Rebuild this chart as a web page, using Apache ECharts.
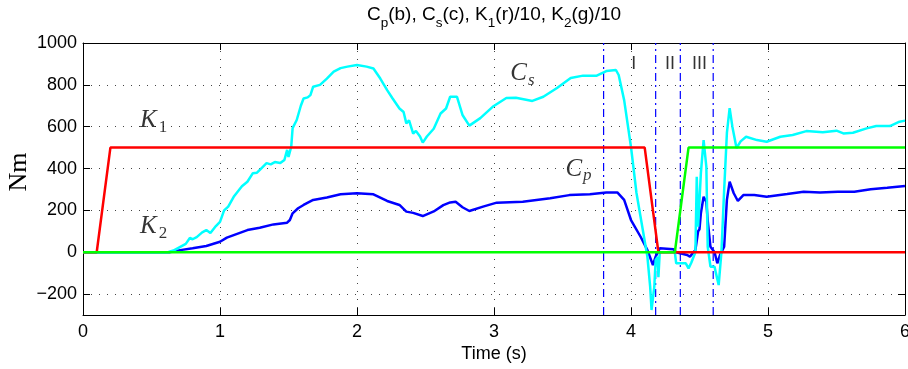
<!DOCTYPE html>
<html>
<head>
<meta charset="utf-8">
<script src="https://cdn.jsdelivr.net/npm/echarts@6/dist/echarts.min.js"></script>
<style>
  html, body { margin: 0; padding: 0; background: #fff; }
  #chart { width: 908px; height: 369px; }
</style>
</head>
<body>
<div id="chart"></div>
<script>
// Cs (cyan) samples: time (s) / torque (Nm)
const csTime = [0, 0.62, 0.66, 0.71, 0.75, 0.78, 0.80, 0.83, 0.87, 0.90, 0.93, 0.97, 1.0, 1.03, 1.06, 1.10, 1.13, 1.16, 1.2, 1.24,
  1.27, 1.30, 1.34, 1.37, 1.40, 1.44, 1.47, 1.49, 1.50, 1.52, 1.53, 1.56, 1.59, 1.61, 1.64, 1.66, 1.68, 1.73, 1.78, 1.83,
  1.88, 1.93, 2.0, 2.07, 2.12, 2.17, 2.22, 2.26, 2.31, 2.34, 2.36, 2.38, 2.41, 2.43, 2.46, 2.48, 2.51, 2.56, 2.61, 2.65,
  2.68, 2.73, 2.77, 2.82, 2.90, 2.99, 3.09, 3.16, 3.28, 3.36, 3.46, 3.56, 3.65, 3.75, 3.82, 3.89, 3.91, 3.95, 4.0, 4.04,
  4.09, 4.12, 4.14, 4.15, 4.17, 4.18, 4.195, 4.20, 4.21, 4.32, 4.33, 4.40, 4.42, 4.44, 4.47, 4.48, 4.49, 4.51, 4.53, 4.55,
  4.56, 4.58, 4.61, 4.62, 4.64, 4.66, 4.68, 4.70, 4.72, 4.74, 4.77, 4.80, 4.84, 4.92, 4.99, 5.09, 5.18, 5.28, 5.40, 5.50,
  5.55, 5.62, 5.72, 5.79, 5.89, 5.96, 6.0]
const csValue = [0, 0, 8, 26, 40, 68, 62, 72, 95, 106, 92, 125, 145, 200, 218, 265, 290, 315, 337, 378,
  380, 400, 426, 420, 431, 426, 441, 489, 455, 505, 593, 632, 700, 735, 740, 751, 791, 800, 830, 863,
  880, 887, 895, 887, 878, 830, 775, 735, 687, 670, 616, 630, 567, 580, 553, 524, 553, 590, 663, 687,
  743, 743, 656, 605, 641, 695, 737, 738, 723, 743, 785, 833, 844, 844, 866, 871, 847, 727, 503, 283,
  92, -23, -166, -276, -166, -37, -23, -119, 0, 0, -53, -53, -77, -50, 0, 361, 122, 378, 536, 408,
  26, -69, -69, -100, -157, 0, 297, 570, 689, 600, 498, 530, 552, 536, 528, 552, 560, 579, 573, 581,
  568, 571, 592, 603, 603, 624, 629]

// Cp (blue) samples
const cpTime = [0, 0.63, 0.71, 0.80, 0.90, 1.0, 1.05, 1.10, 1.20, 1.29, 1.39, 1.49, 1.50, 1.51, 1.53, 1.57, 1.61, 1.68, 1.78, 1.88,
  2.0, 2.12, 2.22, 2.31, 2.36, 2.41, 2.48, 2.56, 2.63, 2.68, 2.72, 2.77, 2.82, 2.92, 3.02, 3.21, 3.41, 3.55, 3.70, 3.82,
  3.90, 3.95, 4.0, 4.07, 4.12, 4.16, 4.18, 4.21, 4.31, 4.33, 4.41, 4.43, 4.47, 4.49, 4.50, 4.51, 4.53, 4.55, 4.56, 4.58,
  4.61, 4.63, 4.65, 4.68, 4.70, 4.72, 4.75, 4.78, 4.82, 4.90, 4.99, 5.14, 5.26, 5.38, 5.51, 5.63, 5.75, 5.87, 6.0]
const cpValue = [0, 0, 10, 19, 30, 50, 70, 82, 106, 117, 133, 141, 138, 154, 186, 210, 226, 250, 262, 277,
  282, 277, 245, 226, 194, 188, 173, 195, 225, 238, 241, 215, 197, 218, 237, 241, 258, 273, 277, 286,
  286, 250, 154, 74, 10, -61, -21, 19, 14, 0, -13, -21, 10, 100, 110, 186, 265, 240, 150, 26,
  0, -53, -13, 26, 250, 337, 282, 245, 273, 273, 265, 278, 289, 286, 289, 289, 301, 308, 316]

// K1/10 (red) and K2/10 (green)
const k1Time = [0, 0.1, 0.2, 4.1, 4.2, 6]
const k1Value = [0, 0, 500, 500, 0, 0]
const k2Time = [0, 4.32, 4.42, 6]
const k2Value = [0, 0, 500, 500]

// Phase boundaries and their labels
const phaseLines = [3.8, 4.18, 4.36, 4.6]
const phaseLabels = ['I', 'II', 'III']
const phaseLabelTime = [4.02, 4.285, 4.5]
const phaseLabelValue = 900

// Curve annotations: [main, subscript, time, value]
const notes = [
  ['K', '1', 0.515, 630],
  ['K', '2', 0.515, 125],
  ['C', 's', 3.208, 854],
  ['C', 'p', 3.617, 398],
]

const COLOR_CS = '#00ffff'
const COLOR_CP = '#0000ff'
const COLOR_K1 = '#ff0000'
const COLOR_K2 = '#00ff00'
const COLOR_PHASE = '#0000ff'
const SANS = '"Liberation Sans", Arial, sans-serif'
const SERIF = '"Liberation Serif", "Times New Roman", serif'

const zip = (xs, ys) => xs.map((x, i) => [x, ys[i]])

const chart = echarts.init(document.getElementById('chart'), null, { renderer: 'canvas' })

const gridDots = { show: true, lineStyle: { color: '#444', width: 1, type: [1, 7] } }
const boxTick = { show: true, inside: true, length: 7, lineStyle: { color: '#000', width: 1 } }
const boxLine = { show: true, onZero: false, lineStyle: { color: '#000', width: 1 } }
const hidden = 'rgba(0,0,0,0)'

const lineSeries = (name, data, color) => ({
  name,
  type: 'line',
  data,
  showSymbol: false,
  symbol: 'none',
  lineStyle: { color, width: 2.5 },
  itemStyle: { color },
  silent: true,
})

// each phase boundary is a vertical dash-dot line across the full y range
const phaseSeries = phaseLines.map((t, i) => ({
  name: 'phase' + i,
  type: 'line',
  data: [[t, -300], [t, 1000]],
  showSymbol: false,
  symbol: 'none',
  silent: true,
  z: 1,
  lineStyle: { color: COLOR_PHASE, width: 1.2, type: [8, 4, 2, 4] },
}))

chart.setOption({
  animation: false,
  grid: { left: 83, right: 3, top: 43, bottom: 54, outerBoundsMode: 'none', containLabel: false },
  xAxis: [
    {
      type: 'value', min: 0, max: 6, interval: 1, position: 'bottom',
      axisLine: boxLine, axisTick: boxTick, splitLine: gridDots,
      axisLabel: { color: '#000', fontSize: 18, fontFamily: SANS, margin: 8 },
    },
    {
      type: 'value', min: 0, max: 6, interval: 1, position: 'top',
      axisLine: boxLine, axisTick: boxTick, splitLine: { show: false }, axisLabel: { show: false },
    },
  ],
  yAxis: [
    {
      type: 'value', min: -300, max: 1000, splitNumber: 6, position: 'left',
      axisLine: boxLine, axisTick: boxTick, splitLine: gridDots,
      axisLabel: {
        color: '#000', fontSize: 18, fontFamily: SANS, margin: 6, showMinLabel: false,
        formatter: (v) => (v < 0 ? '\u2212' + Math.abs(v) : String(v)),
      },
    },
    {
      type: 'value', min: -300, max: 1000, splitNumber: 6, position: 'right',
      axisLine: boxLine, axisTick: boxTick, splitLine: { show: false }, axisLabel: { show: false },
    },
  ],
  series: [
    ...phaseSeries,
    lineSeries('Cp', zip(cpTime, cpValue), COLOR_CP),
    lineSeries('Cs', zip(csTime, csValue), COLOR_CS),
    lineSeries('K1', zip(k1Time, k1Value), COLOR_K1),
    lineSeries('K2', zip(k2Time, k2Value), COLOR_K2),
    {
      name: 'phases',
      type: 'scatter',
      symbolSize: 2,
      silent: true,
      itemStyle: { color: hidden },
      data: phaseLabels.map((s, i) => ({ value: [phaseLabelTime[i], phaseLabelValue], name: s })),
      label: {
        show: true, position: 'inside', formatter: (p) => p.name,
        color: '#000', fontSize: 18, fontFamily: SANS,
      },
    },
    {
      name: 'notes',
      type: 'scatter',
      symbolSize: 2,
      silent: true,
      itemStyle: { color: hidden },
      data: notes.map((n) => ({ value: [n[2], n[3]], name: n[0], sub: n[1] })),
      label: {
        show: true, position: 'inside',
        formatter: (p) => {
          const sub = p.data.sub
          const style = /[0-9]/.test(sub) ? 'sn' : 'si'
          return `{m|${p.name}}{${style}|${sub}}`
        },
        rich: {
          m: { fontFamily: SERIF, fontStyle: 'italic', fontSize: 25, color: '#000' },
          si: { fontFamily: SERIF, fontStyle: 'italic', fontSize: 17, color: '#000', padding: [14, 0, 0, 1] },
          sn: { fontFamily: SERIF, fontSize: 17, color: '#000', padding: [14, 0, 0, 2] },
        },
      },
    },
  ],
  graphic: [
    {
      type: 'text', x: 494, y: 15, silent: true,
      style: {
        text: '{m|C}{s|p}{m|(b), C}{s|s}{m|(c), K}{s|1}{m|(r)/10, K}{s|2}{m|(g)/10}',
        align: 'center', verticalAlign: 'middle',
        rich: {
          m: { fontFamily: SANS, fontSize: 19, fill: '#000' },
          s: { fontFamily: SANS, fontSize: 13.5, fill: '#000', padding: [16, 0, 0, 0] },
        },
      },
    },
    {
      type: 'text', x: 494, y: 354, silent: true,
      style: { text: 'Time (s)', font: '18px ' + SANS, fill: '#000', align: 'center', verticalAlign: 'middle' },
    },
    {
      type: 'text', x: 19, y: 172, rotation: Math.PI / 2, silent: true,
      style: { text: 'Nm', font: '26px ' + SERIF, fill: '#000', align: 'center', verticalAlign: 'middle' },
    },
  ],
})
</script>
</body>
</html>
